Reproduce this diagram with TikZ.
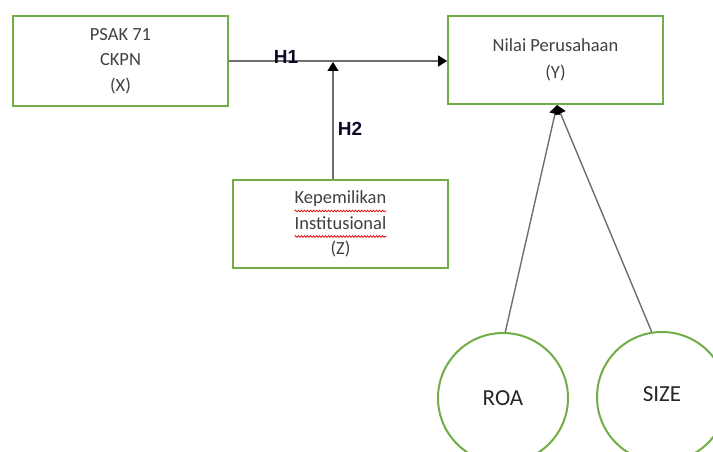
\documentclass[tikz,border=0pt]{standalone}
\usepackage{fontspec}
\setmainfont{Carlito}
\newfontfamily\hfont{Liberation Sans}
\usetikzlibrary{arrows.meta,decorations.pathmorphing}
\definecolor{boxgreen}{HTML}{70AD47}
\definecolor{txtgray}{HTML}{404040}
\definecolor{linegray}{HTML}{6E6E6E}
\definecolor{hblue}{HTML}{0A0A28}
\newlength\kepw
\newlength\insw
\begin{document}
\settowidth{\kepw}{\fontsize{18.5}{25.5}\selectfont Kepemilikan}%
\settowidth{\insw}{\fontsize{18.5}{25.5}\selectfont Institusional}%
\begin{tikzpicture}[x=1pt,y=-1pt,
  varbox/.style={draw=boxgreen,line width=1.8pt,minimum width=215pt,align=center,
    text=txtgray,font=\fontsize{18.5}{25.5}\selectfont,inner sep=0pt},
  varcirc/.style={circle,draw=boxgreen,line width=2pt,minimum size=130pt,inner sep=0pt,
    text=txtgray!60!black,font=\fontsize{23}{26}\selectfont},
  conn/.style={draw=linegray,line width=1.4pt,-{Triangle[width=11pt,length=9pt,fill=black,color=black]}},
  hlabel/.style={font=\hfont\bfseries\fontsize{19}{22}\selectfont,text=hblue,inner sep=0pt},
  squig/.style={draw=red!90!black,line width=0.8pt,decorate,decoration={snake,amplitude=0.8pt,segment length=3pt}}]
\useasboundingbox (0,0) rectangle (713,452);
\begin{scope}
\clip (0,0) rectangle (713,452);
\node[varbox,minimum height=90pt] (X) at (120.5,61) {PSAK 71\\CKPN\\(X)};
\node[varbox,minimum height=88pt] (Y) at (555.5,60) {Nilai Perusahaan\\[1.5pt](Y)};
\node[varbox,minimum height=88pt] (Z) at (340.5,224) {Kepemilikan\\Institusional\\(Z)};
\draw[squig] ([xshift=-0.5\kepw,yshift=13pt]Z.center) -- ([xshift=0.5\kepw,yshift=13pt]Z.center);
\draw[squig] ([xshift=-0.5\insw,yshift=-12.5pt]Z.center) -- ([xshift=0.5\insw,yshift=-12.5pt]Z.center);
\node[varcirc] (ROA) at (503,398) {ROA};
\node[varcirc] (SIZE) at (662,397) {\raisebox{6pt}{SIZE}};
\coordinate (m) at (333,62);
\coordinate (ytip) at (557,105);
\draw[conn] (X.east) -- (X.east -| Y.west);
\draw[conn] (Z.north -| m) -- (m);
\draw[conn] (ROA.88) -- (ytip);
\draw[conn] (SIZE.99) -- (ytip);
\node[hlabel] (h1) at (286,57) {H1};
\node[hlabel] (h2) at (350,129) {H2};
\end{scope}
\end{tikzpicture}
\end{document}
